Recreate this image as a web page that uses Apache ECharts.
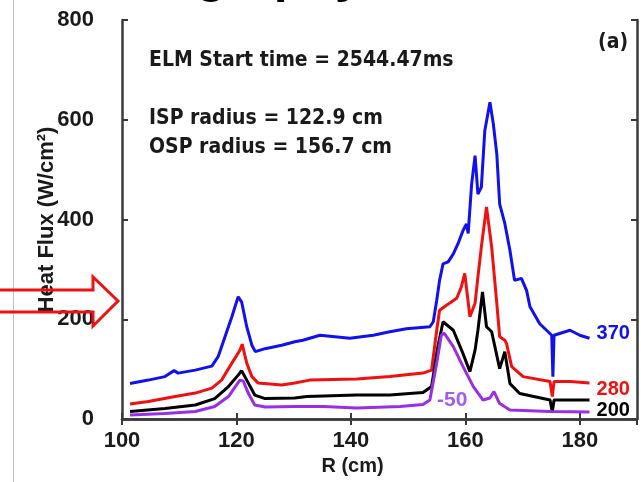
<!DOCTYPE html>
<html>
<head>
<meta charset="utf-8">
<script src="https://cdn.jsdelivr.net/npm/echarts@6/dist/echarts.min.js"></script>
<style>
  html, body { margin: 0; padding: 0; background: #fff; }
  #chart { width: 641px; height: 482px; }
</style>
</head>
<body>
<div id="chart"></div>
<script>
// ---- data: R (cm) vs heat flux (W/cm^2) ----
const rBlue = [101.4, 104.6, 107.5, 109.1, 109.8, 112.8, 115.7, 116.8, 118.0, 119.2, 120.3, 120.9, 121.8, 122.7, 123.3, 125.0, 127.9, 130.2, 131.6, 134.6, 139.8, 143.9, 146.8, 149.7, 153.8, 154.4, 155.0, 155.5, 156.1, 157.0, 157.9, 158.7, 159.6, 160.2, 160.5, 161.1, 161.7, 162.2, 162.8, 163.4, 164.3, 164.9, 165.5, 166.0, 166.9, 167.8, 168.6, 169.8, 170.7, 171.3, 173.0, 175.1, 175.3, 175.5, 178.3, 180.0, 181.7]
const qBlue = [71, 78, 85, 97, 92, 98, 106, 125, 165, 205, 245, 235, 185, 148, 135, 141, 148, 155, 158, 168, 162, 168, 175, 181, 185, 195, 238, 278, 311, 315, 331, 351, 378, 391, 372, 471, 528, 451, 465, 578, 635, 591, 531, 431, 392, 338, 278, 282, 258, 225, 191, 168, 85, 168, 178, 168, 162]

const rRed = [101.4, 104.6, 109.3, 112.8, 115.7, 117.4, 119.2, 120.6, 121.0, 121.8, 122.7, 123.8, 127.9, 130.2, 132.8, 141.0, 146.8, 152.6, 154.1, 155.0, 155.5, 156.7, 158.5, 159.3, 159.9, 160.8, 161.7, 162.2, 162.8, 163.7, 164.6, 165.4, 166.0, 166.9, 167.2, 168.1, 170.1, 174.8, 175.2, 175.5, 178.3, 181.7]
const qRed = [30, 35, 45, 52, 62, 78, 112, 138, 150, 112, 85, 72, 68, 72, 78, 80, 85, 92, 98, 178, 218, 228, 242, 265, 292, 205, 232, 285, 345, 425, 345, 245, 165, 158, 151, 105, 85, 75, 45, 75, 75, 72]

const rBlack = [101.4, 107.5, 112.8, 116.2, 118.6, 120.3, 120.9, 121.8, 123.2, 125.0, 130.2, 132.3, 141.0, 146.8, 152.6, 154.1, 155.2, 156.1, 157.9, 159.6, 160.8, 161.7, 162.2, 163.0, 163.7, 164.6, 166.0, 166.9, 167.8, 169.5, 174.8, 175.2, 175.5, 181.7]
const qBlack = [15, 21, 28, 41, 65, 88, 97, 78, 48, 41, 42, 45, 48, 48, 53, 65, 145, 195, 178, 131, 95, 138, 178, 255, 185, 175, 101, 135, 71, 51, 38, 14, 38, 38]

const rPurple = [101.4, 107.5, 112.8, 116.2, 118.6, 120.6, 121.2, 122.1, 123.2, 125.0, 130.2, 135.2, 141.0, 148.6, 152.6, 153.8, 155.0, 155.8, 156.3, 157.9, 159.6, 161.4, 163.1, 164.3, 165.0, 166.0, 167.8, 174.8, 181.7]
const qPurple = [8, 11, 15, 25, 45, 78, 76, 51, 28, 24, 25, 25, 22, 25, 29, 38, 112, 168, 172, 145, 105, 65, 38, 42, 55, 31, 18, 15, 14]

const seriesTags = ['370', '280', '200', '-50']
const xTicks = [100, 120, 140, 160, 180]
const yTicks = [0, 200, 400, 600, 800]

const zip = (xs, ys) => xs.map((x, i) => [x, ys[i]])

const chart = echarts.init(document.getElementById('chart'))

const FONT = "'Liberation Sans', Arial, sans-serif"
const NARROW = "'Liberation Sans Narrow', 'DejaVu Sans Condensed', 'Liberation Sans', sans-serif"
const frameLine = { show: true, lineStyle: { color: '#3a3a3a', width: 2.5 } }
const tickIn = { show: true, inside: true, length: 6, lineStyle: { color: '#3a3a3a', width: 2 } }

const lineSeries = (name, data, color, dy) => ({
  name,
  type: 'line',
  data,
  symbol: 'none',
  xAxisIndex: 0,
  yAxisIndex: 0,
  lineStyle: { color, width: 3 },
  itemStyle: { color },
  z: 3,
  endLabel: dy === null ? { show: false } : {
    show: true,
    formatter: name,
    color,
    fontFamily: FONT,
    fontWeight: 'bold',
    fontSize: 20,
    distance: 7,
    offset: [0, dy]
  }
})

chart.setOption({
  animation: false,
  backgroundColor: '#fff',
  grid: { left: 122, right: 4, top: 20, bottom: 63 },
  xAxis: [
    {
      type: 'value',
      min: 100,
      max: 190,
      interval: 20,
      name: 'R (cm)',
      nameLocation: 'middle',
      nameGap: 35,
      nameTextStyle: { color: '#1a1a1a', fontFamily: FONT, fontWeight: 'bold', fontSize: 20, padding: [0, 54, 0, 0] },
      axisLine: frameLine,
      axisTick: tickIn,
      splitLine: { show: false },
      axisLabel: {
        color: '#1a1a1a', fontFamily: FONT, fontWeight: 'bold', fontSize: 22, margin: 11,
        showMaxLabel: false,
        formatter: (v) => (xTicks.includes(v) ? String(v) : '')
      }
    },
    {
      type: 'value',
      position: 'top',
      min: 100,
      max: 190,
      interval: 20,
      axisLine: frameLine,
      axisTick: tickIn,
      axisLabel: { show: false },
      splitLine: { show: false }
    }
  ],
  yAxis: [
    {
      type: 'value',
      min: 0,
      max: 800,
      interval: 200,
      name: 'Heat Flux (W/cm²)',
      nameLocation: 'middle',
      nameGap: 64,
      nameMoveOverlap: false,
      nameTextStyle: { color: '#1a1a1a', fontFamily: FONT, fontWeight: 'bold', fontSize: 22 },
      axisLine: frameLine,
      axisTick: tickIn,
      splitLine: { show: false },
      axisLabel: {
        color: '#1a1a1a', fontFamily: FONT, fontWeight: 'bold', fontSize: 22, margin: 28,
        formatter: (v) => (yTicks.includes(v) ? String(v) : '')
      }
    },
    {
      type: 'value',
      position: 'right',
      min: 0,
      max: 800,
      interval: 200,
      axisLine: frameLine,
      axisTick: tickIn,
      axisLabel: { show: false },
      splitLine: { show: false }
    }
  ],
  series: [
    lineSeries(seriesTags[0], zip(rBlue, qBlue), '#1010f0', -5),
    lineSeries(seriesTags[1], zip(rRed, qRed), '#f01010', 6),
    lineSeries(seriesTags[2], zip(rBlack, qBlack), '#000000', 10),
    Object.assign(lineSeries(seriesTags[3], zip(rPurple, qPurple), '#9a2ee6', null), {
      markPoint: {
        symbol: 'circle',
        symbolSize: 0,
        data: [{ coord: [157.7, 37] }],
        label: {
          show: true,
          formatter: seriesTags[3],
          color: '#a45cf0',
          fontFamily: FONT,
          fontWeight: 'bold',
          fontSize: 21
        }
      }
    })
  ],
  graphic: [
    // thin page border on the left of the slide
    { type: 'line', shape: { x1: 13.5, y1: 0, x2: 13.5, y2: 482 }, style: { stroke: '#c4c4c4', lineWidth: 1 }, silent: true },
    // cut-off slide title above the plot (only descenders visible)
    { type: 'text', left: 196, top: -47, style: { text: 'graphy', fill: '#000', font: "bold 50px 'Liberation Sans', Arial, sans-serif" }, silent: true },
    // red outlined arrow pointing at the axis
    {
      type: 'polyline',
      shape: { points: [[0, 290], [93, 290], [93, 277], [118, 301], [93, 326], [93, 312], [0, 312]] },
      style: { stroke: '#ee1111', lineWidth: 3, fill: 'none' },
      z: 10,
      silent: true
    },
    { type: 'text', left: 149, top: 50, style: { text: 'ELM Start time = 2544.47ms', fill: '#1a1a1a', font: "bold 21px " + NARROW } },
    { type: 'text', left: 149, top: 108, style: { text: 'ISP radius = 122.9 cm', fill: '#1a1a1a', font: "bold 21px " + NARROW } },
    { type: 'text', left: 149, top: 137, style: { text: 'OSP radius = 156.7 cm', fill: '#1a1a1a', font: "bold 21px " + NARROW } },
    { type: 'text', left: 598, top: 32, style: { text: '(a)', fill: '#1a1a1a', font: "bold 21px " + NARROW } }
  ]
})
</script>
</body>
</html>
